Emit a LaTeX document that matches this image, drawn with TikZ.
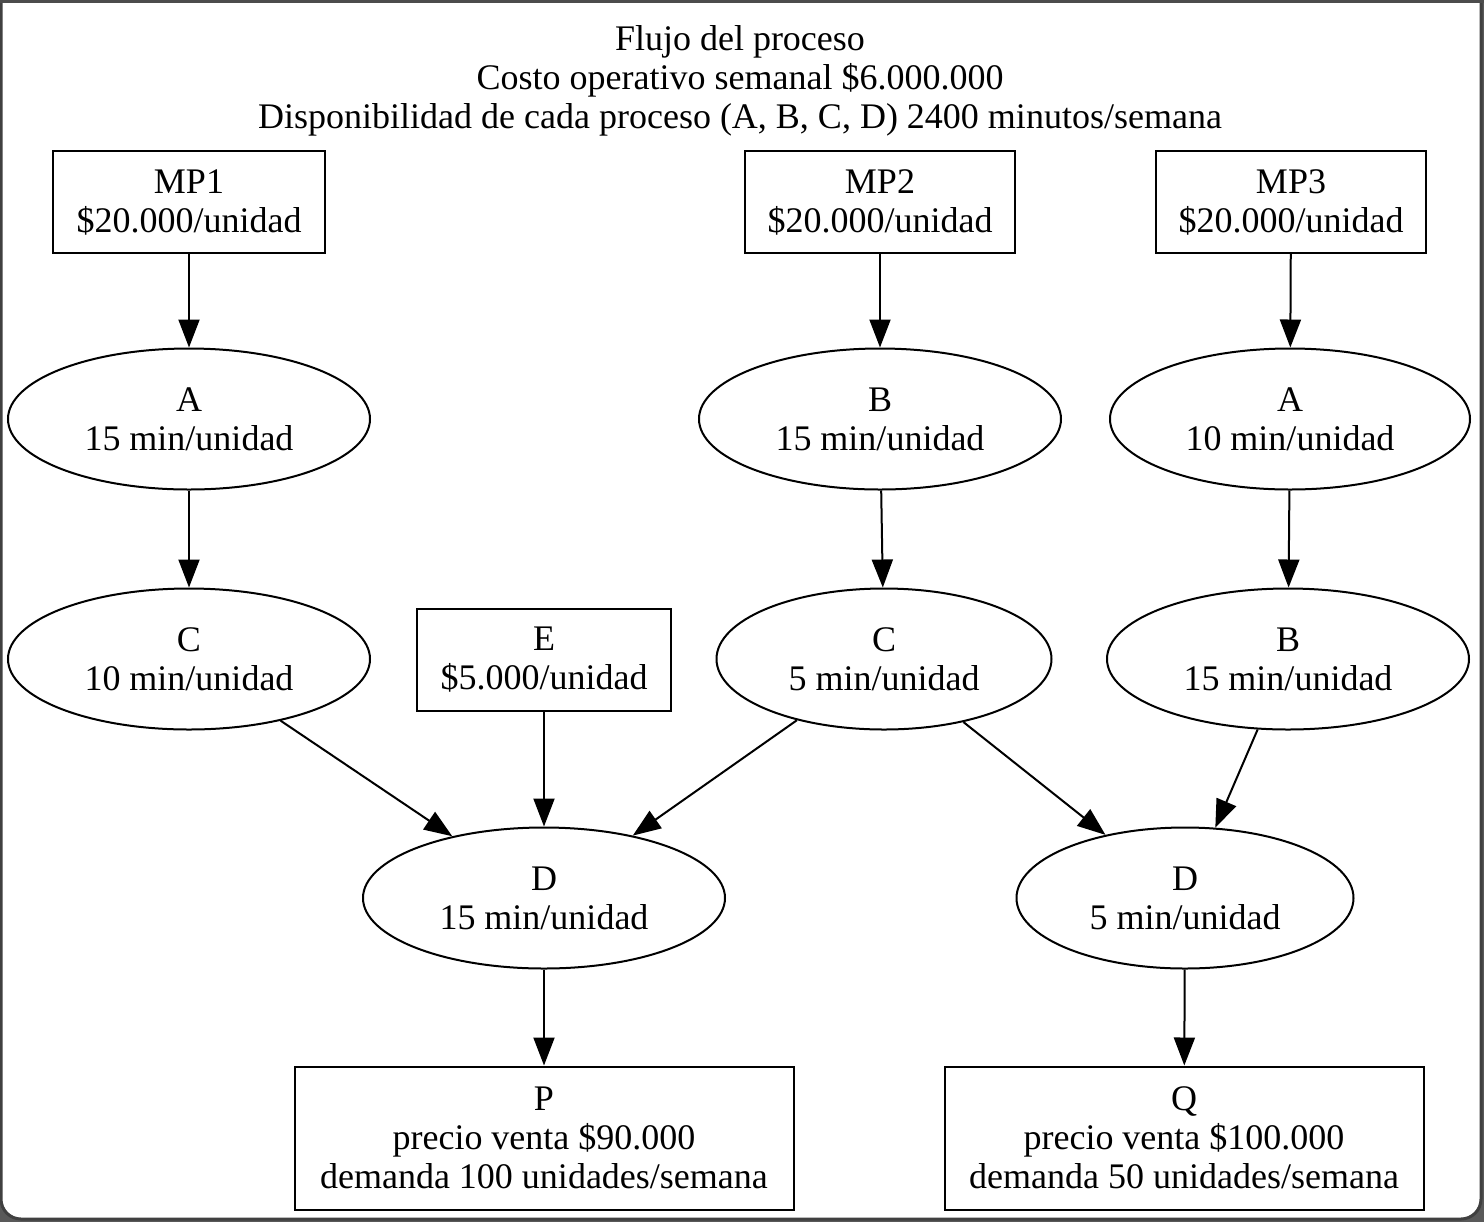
\documentclass[tikz,border=0pt]{standalone}
\usepackage{fontspec}
\setmainfont{Liberation Serif}
\usetikzlibrary{shapes.geometric,arrows.meta}
\tikzset{
  box/.style={draw, rectangle, align=center, inner sep=0pt, minimum height=51pt},
  proc/.style={draw, ellipse, align=center, inner sep=0pt, minimum width=181pt, minimum height=70.5pt},
  flow/.style={-{Triangle[length=14pt,width=10.5pt]}, line width=1pt}
}
\begin{document}
\begin{tikzpicture}[x=0.5pt,y=-0.5pt,font=\fontsize{18}{19.5}\selectfont,line width=1pt]
\useasboundingbox (0,0) rectangle (1484,1222);
\fill[black!65] (0,0) rectangle (1484,1222);
\draw[fill=white, draw=black!75, line width=1.5pt, rounded corners=10pt] (1,-30) rectangle (1481,1219);
\draw[black!70, line width=1.5pt] (0,1) -- (1484,1);
\node[align=center] (title) at (740,81) {Flujo del proceso\\Costo operativo semanal \$6.000.000\\Disponibilidad de cada proceso (A, B, C, D) 2400 minutos/semana};
\node[box, minimum width=136pt] (mp1) at (189,202) {MP1\\\$20.000/unidad};
\node[box, minimum width=135pt] (mp2) at (880,202) {MP2\\\$20.000/unidad};
\node[box, minimum width=135pt] (mp3) at (1291,202) {MP3\\\$20.000/unidad};
\node[proc] (a1) at (189,419) {A\\15 min/unidad};
\node[proc] (b2) at (880,419) {B\\15 min/unidad};
\node[proc, minimum width=180pt] (a3) at (1290,419) {A\\10 min/unidad};
\node[proc] (c1) at (189,659) {C\\10 min/unidad};
\node[box, minimum width=127pt] (e) at (544,660) {E\\\$5.000/unidad};
\node[proc, minimum width=167.5pt] (c2) at (884,659) {C\\5 min/unidad};
\node[proc] (b3) at (1288,659) {B\\15 min/unidad};
\node[proc] (d1) at (544,898) {D\\15 min/unidad};
\node[proc, minimum width=168.5pt] (d2) at (1185,898) {D\\5 min/unidad};
\node[box, minimum width=249.5pt, minimum height=71.5pt] (p) at (544,1138) {P\\precio venta \$90.000\\demanda 100 unidades/semana};
\node[box, minimum width=239.5pt, minimum height=71.5pt] (q) at (1184,1138) {Q\\precio venta \$100.000\\demanda 50 unidades/semana};
\draw[flow] (mp1) -- (a1);
\draw[flow] (a1) -- (c1);
\draw[flow] (mp2) -- (b2);
\draw[flow] (b2) -- (c2);
\draw[flow] (mp3) -- (a3);
\draw[flow] (a3) -- (b3);
\draw[flow] (c1) -- (d1);
\draw[flow] (e) -- (d1);
\draw[flow] (c2) -- (d1);
\draw[flow] (c2) -- (d2);
\draw[flow] (b3) -- (d2);
\draw[flow] (d1) -- (p);
\draw[flow] (d2) -- (q);
\end{tikzpicture}
\end{document}
